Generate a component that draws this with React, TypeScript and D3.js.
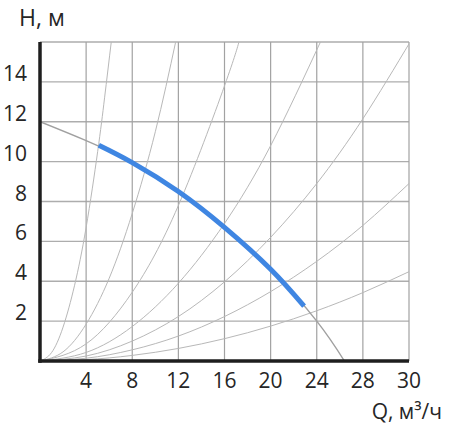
import React from "react";
import * as d3 from "d3";

// X positions of ticks (the last tick is labelled "30" in the original drawing)
const xTickValues = [4, 8, 12, 16, 20, 24, 28, 32];
const xTickLabels = ["4", "8", "12", "16", "20", "24", "28", "30"];
const yTickValues = [2, 4, 6, 8, 10, 12, 14];
const yGridValues = [2, 4, 6, 8, 10, 12, 14, 16];

// Pump curve (full, grey) – [Q, H]
const pumpCurveFull: [number, number][] = [
  [0, 12], [4, 11.05], [8, 9.95], [12, 8.5], [16, 6.7], [20, 4.6], [24, 2.0], [26.4, 0],
];
// Operating range (blue)
const pumpCurveWork: [number, number][] = [
  [5.1, 10.82], [8, 9.95], [12, 8.5], [16, 6.7], [20, 4.6], [22.9, 2.75],
];

// System characteristic curves – [Q, H]
const sysCurve1: [number, number][] = [
  [0, 0], [1, 0.42], [2, 1.7], [3, 3.8], [4, 6.7], [5, 10.5], [5.6, 13.2], [6.2, 16.1],
];
const sysCurve2: [number, number][] = [
  [0, 0], [2, 0.46], [4, 1.85], [6, 4.15], [8, 7.4], [10, 11.5], [11.8, 16.1],
];
const sysCurve3: [number, number][] = [
  [0, 0], [4, 0.86], [8, 3.45], [12, 7.8], [16, 13.8], [17.3, 16.1],
];
const sysCurve4: [number, number][] = [
  [0, 0], [4, 0.43], [8, 1.73], [12, 3.9], [16, 6.9], [20, 10.8], [24.4, 16.1],
];
const sysCurve5: [number, number][] = [
  [0, 0], [4, 0.25], [8, 1.0], [12, 2.23], [16, 3.97], [20, 6.2], [24, 8.9], [28, 12.15], [32.2, 16.1],
];
const sysCurve6: [number, number][] = [
  [0, 0], [4, 0.14], [8, 0.56], [12, 1.25], [16, 2.23], [20, 3.48], [24, 5.0], [28, 6.8], [32, 8.9],
];
const sysCurve7: [number, number][] = [
  [0, 0], [4, 0.07], [8, 0.28], [12, 0.63], [16, 1.12], [20, 1.75], [24, 2.52], [28, 3.43], [32, 4.48],
];
const systemCurves = [sysCurve1, sysCurve2, sysCurve3, sysCurve4, sysCurve5, sysCurve6, sysCurve7];

const W = 450;
const H = 430;
const left = 40;
const right = 409;
const top = 42;
const bottom = 361;

export default function App() {
  const x = d3.scaleLinear().domain([0, 32]).range([left, right]);
  const y = d3.scaleLinear().domain([0, 16]).range([bottom, top]);
  const line = d3
    .line<[number, number]>()
    .x((d) => x(d[0]))
    .y((d) => y(d[1]))
    .curve(d3.curveNatural);

  const font = "'Open Sans', 'Noto Sans', sans-serif";
  const textColor = "#262626";

  return (
    <div style={{ position: "absolute", left: 0, top: 0 }}>
      <svg width={W} height={H} style={{ display: "block", background: "#fff" }}>
        <defs>
          <clipPath id="plot">
            <rect x={left} y={top} width={right - left} height={bottom - top} />
          </clipPath>
        </defs>
        {/* horizontal grid */}
        {yGridValues.map((v) => (
          <line key={"h" + v} x1={left} x2={right} y1={y(v)} y2={y(v)} stroke="#adadad" strokeWidth={1.4} />
        ))}
        {/* vertical grid */}
        {xTickValues.map((v) => (
          <line key={"v" + v} x1={x(v)} x2={x(v)} y1={top} y2={bottom} stroke="#a2a2a2" strokeWidth={1.2} />
        ))}
        {/* system curves */}
        <g clipPath="url(#plot)">
          {systemCurves.map((c, i) => (
            <path key={"s" + i} d={line(c) || ""} fill="none" stroke="#b8b8b8" strokeWidth={1} />
          ))}
          <path d={line(pumpCurveFull) || ""} fill="none" stroke="#a0a0a0" strokeWidth={1.4} />
        </g>
        <path
          d={line(pumpCurveWork) || ""}
          fill="none"
          stroke="#3f86e2"
          strokeWidth={5}
          strokeLinecap="butt"
        />
        {/* axes */}
        <line x1={left} x2={left} y1={top} y2={bottom + 1.75} stroke="#1e1e1e" strokeWidth={3.5} />
        <line x1={left - 1.75} x2={right} y1={bottom} y2={bottom} stroke="#1e1e1e" strokeWidth={3.5} />
        {/* y tick labels */}
        {yTickValues.map((v) => (
          <text
            key={"yl" + v}
            x={27}
            y={y(v) - 1}
            textAnchor="end"
            fontFamily={font}
            fontSize={21}
            fill={textColor}
          >
            {v}
          </text>
        ))}
        {/* x tick labels */}
        {xTickValues.map((v, i) => (
          <text
            key={"xl" + v}
            x={x(v)}
            y={388}
            textAnchor="middle"
            fontFamily={font}
            fontSize={21}
            fill={textColor}
          >
            {xTickLabels[i]}
          </text>
        ))}
        <text x={19} y={26} fontFamily={font} fontSize={23} fill={textColor}>
          H, м
        </text>
        <text x={442} y={419} textAnchor="end" fontFamily={font} fontSize={21} fill={textColor}>
          Q, м³/ч
        </text>
      </svg>
    </div>
  );
}
